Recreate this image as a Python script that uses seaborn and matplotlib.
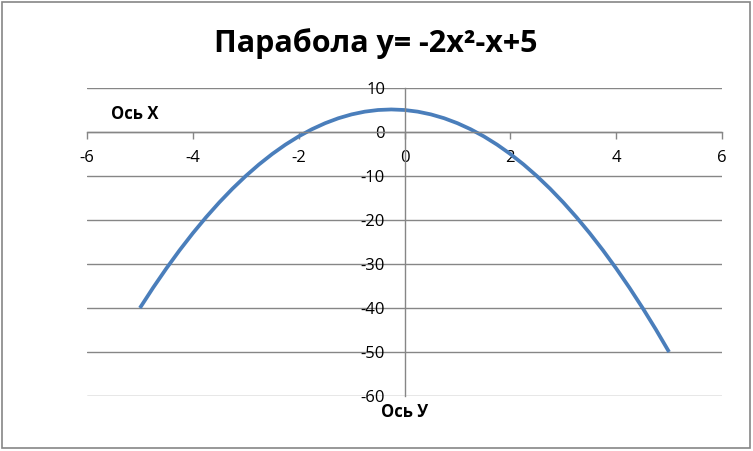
import matplotlib
matplotlib.use("Agg")
import matplotlib.pyplot as plt
import seaborn as sns
import pandas as pd
from matplotlib.patches import Rectangle

x_values = [-5.0, -4.75, -4.5, -4.25, -4.0, -3.75, -3.5, -3.25, -3.0, -2.75, -2.5,
            -2.25, -2.0, -1.75, -1.5, -1.25, -1.0, -0.75, -0.5, -0.25, 0.0,
            0.25, 0.5, 0.75, 1.0, 1.25, 1.5, 1.75, 2.0, 2.25, 2.5,
            2.75, 3.0, 3.25, 3.5, 3.75, 4.0, 4.25, 4.5, 4.75, 5.0]
y_values = [-40.0, -35.375, -31.0, -26.875, -23.0, -19.375, -16.0, -12.875, -10.0, -7.375, -5.0,
            -2.875, -1.0, 0.625, 2.0, 3.125, 4.0, 4.625, 5.0, 5.125, 5.0,
            4.625, 4.0, 3.125, 2.0, 0.625, -1.0, -2.875, -5.0, -7.375, -10.0,
            -12.875, -16.0, -19.375, -23.0, -26.875, -31.0, -35.375, -40.0, -44.875, -50.0]
x_ticks = [-6, -4, -2, 0, 2, 4, 6]
y_ticks = [-60, -50, -40, -30, -20, -10, 0, 10]
title_text = "Парабола y= -2x²-x+5"
x_axis_label = "Ось Х"
y_axis_label = "Ось У"

sns.set_theme(style="white")
plt.rcParams['font.family'] = ['Open Sans', 'DejaVu Sans']

W, H = 753, 451
fig = plt.figure(figsize=(W / 100, H / 100), dpi=100)
ax = fig.add_axes([87 / W, 1 - 396 / H, (722 - 87) / W, (396 - 88) / H])

df = pd.DataFrame({"x": x_values, "y": y_values})
sns.lineplot(data=df, x="x", y="y", ax=ax, color="#4A7EBB", linewidth=2.7,
             sort=False, solid_capstyle="butt")

grid_color = "#868686"
ax.set_xlim(-6, 6)
ax.set_ylim(-60, 10)
ax.set_xticks(x_ticks)
ax.set_yticks(y_ticks)
ax.set_xticklabels([str(v) for v in x_ticks])
ax.set_yticklabels([str(v) for v in y_ticks])
ax.set_xlabel("")
ax.set_ylabel("")
ax.set_facecolor("white")

for yv in y_ticks:
    ax.axhline(yv, color=grid_color, linewidth=1.0, zorder=0)

for s in ["top", "right"]:
    ax.spines[s].set_visible(False)
ax.spines["left"].set_position(("data", 0))
ax.spines["bottom"].set_position(("data", 0))
ax.spines["left"].set_color(grid_color)
ax.spines["bottom"].set_color(grid_color)
ax.spines["left"].set_linewidth(1.0)
ax.spines["bottom"].set_linewidth(1.0)

ax.tick_params(axis="x", direction="out", length=5, width=1, color=grid_color,
               labelsize=12, labelcolor="black", pad=8, bottom=True)
ax.tick_params(axis="y", length=0, labelsize=12, labelcolor="black", pad=14, left=True)

fig.text(376 / W, 1 - 44 / H, title_text, ha="center", va="center",
         fontsize=22, fontweight="bold", color="black")
fig.text(111 / W, 1 - 114 / H, x_axis_label, ha="left", va="center",
         fontsize=12, fontweight="bold", color="black")
fig.text(381 / W, 1 - 412 / H, y_axis_label, ha="left", va="center",
         fontsize=12, fontweight="bold", color="black")

fig.patches.append(Rectangle((1.5 / W, 1 - 448 / H), (750 - 1.5) / W, (448 - 1.5) / H,
                             transform=fig.transFigure, fill=False,
                             edgecolor=grid_color, linewidth=1.2))

fig.savefig("out.png", dpi=100, facecolor="white")
